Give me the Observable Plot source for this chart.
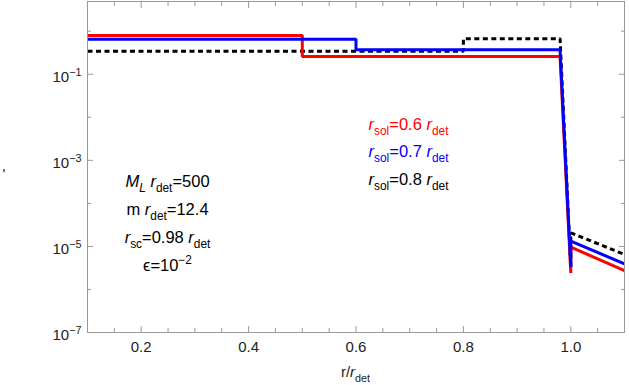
<!DOCTYPE html>
<html><head><meta charset="utf-8">
<script src="https://cdn.jsdelivr.net/npm/d3@7"></script>
<script src="https://cdn.jsdelivr.net/npm/@observablehq/plot@0.6"></script>
<style>body{margin:0;background:#fff}#chart svg{display:block}</style>
</head><body><div id="chart"></div>
<script>
// ---- data ----
const rRed   = [0.1, 0.5, 0.5, 0.98, 1.0, 1.0, 1.1];
const vRed   = [0.79, 0.79, 0.26, 0.26, 2.4e-6, 9.6e-6, 2.75e-6];
const rBlue  = [0.1, 0.6, 0.6, 0.98, 1.0, 1.0, 1.1];
const vBlue  = [0.65, 0.65, 0.37, 0.37, 3.3e-6, 1.32e-5, 3.95e-6];
const rBlack = [0.1, 0.8, 0.8, 0.98, 1.0, 1.0, 1.1];
const vBlack = [0.34, 0.34, 0.67, 0.67, 3.3e-6, 2.07e-5, 6.5e-6];

const xMajor = [0.2, 0.4, 0.6, 0.8, 1.0];
const xMinor = [0.15, 0.25, 0.3, 0.35, 0.45, 0.5, 0.55, 0.65, 0.7, 0.75, 0.85, 0.9, 0.95, 1.05];
const yLabeled = [1e-1, 1e-3, 1e-5, 1e-7];
const yUnlabeled = [1, 1e-2, 1e-4, 1e-6];

const legendLabels = ["*r*_{sol}=0.6 *r*_{det}", "*r*_{sol}=0.7 *r*_{det}", "*r*_{sol}=0.8 *r*_{det}"];
const legendColors = ["#ff0000", "#0000ff", "#000000"];
const paramLabels = ["*M*_{*L*} *r*_{det}=500", "m *r*_{det}=12.4", "*r*_{sc}=0.98 *r*_{det}", "ϵ=10^{−2}"];
const xLabel = "r/*r*_{det}";
const yLabel = "'";

// ---- layout ----
const W = 629, H = 385, mL = 87, mR = 5, mT = 1, mB = 53;
const yTop = 4.9;
const FONT = "'Liberation Sans', Arial, sans-serif";
const AX = "#999";

const series = [
  {r: rBlack, v: vBlack, color: "#000000", dash: "5,3.5"},
  {r: rRed, v: vRed, color: "#ff0000"},
  {r: rBlue, v: vBlue, color: "#0000ff"}
];

const marks = [];
for (const s of series) {
  marks.push(Plot.line(s.r.map((x, i) => ({x, y: s.v[i]})), {
    x: "x", y: "y", stroke: s.color, strokeWidth: 3,
    strokeDasharray: s.dash, strokeLinecap: "butt", strokeLinejoin: "miter"
  }));
}
marks.push(Plot.frame({stroke: AX}));
// ticks (inward)
for (const anchor of ["bottom", "top"]) {
  marks.push(Plot.axisX({anchor, ticks: xMinor, tickSize: -4, tickFormat: () => "", stroke: AX, label: null}));
  marks.push(Plot.axisX({anchor, ticks: xMajor, tickSize: -6, tickFormat: () => "", stroke: AX, label: null}));
}
for (const anchor of ["left", "right"]) {
  marks.push(Plot.axisY({anchor, ticks: yUnlabeled, tickSize: -4, tickFormat: () => "", stroke: AX, label: null}));
  marks.push(Plot.axisY({anchor, ticks: yLabeled, tickSize: -6, tickFormat: () => "", stroke: AX, label: null}));
}
// tick labels
marks.push(Plot.axisX({anchor: "bottom", ticks: xMajor, tickSize: 0, tickPadding: 9, tickFormat: d3.format(".1f"), fill: "#222", fontSize: 15, label: null}));
marks.push(Plot.axisY({anchor: "left", ticks: yLabeled, tickSize: 0, tickPadding: 6, dy: 3,
  tickFormat: d => "10^{" + String(Math.round(Math.log10(d))).replace("-", "−") + "}", fill: "#222", fontSize: 15, label: null}));

// annotation texts
const txt = (t, cx, cy, fill, fontSize) => Plot.text([t], {
  frameAnchor: "top-left", dx: cx - mL, dy: cy - mT, fill, fontSize,
  textAnchor: "middle", lineAnchor: "middle"
});
const legendY = [124, 151.5, 179];
legendLabels.forEach((t, i) => marks.push(txt(t, 408, legendY[i], legendColors[i], 16.5)));
const paramY = [181, 209, 237.5, 265.5];
paramLabels.forEach((t, i) => marks.push(txt(t, 167, paramY[i], "#000", 16.5)));
marks.push(txt(xLabel, 355, 372, "#222", 15));
marks.push(txt(yLabel, 3.5, 174, "#222", 15));

const chart = Plot.plot({
  width: W, height: H, marginLeft: mL, marginRight: mR, marginTop: mT, marginBottom: mB,
  style: {fontFamily: FONT, background: "#fff"},
  x: {domain: [0.1, 1.1]},
  y: {type: "log", domain: [1e-7, yTop]},
  marks
});
document.getElementById("chart").appendChild(chart);

// rich-text post-processing: *italic*, _{sub}, ^{sup}
const NS = "http://www.w3.org/2000/svg";
function rich(el) {
  const s = el.textContent;
  if (!/[*_^]/.test(s)) return;
  const fs = parseFloat(getComputedStyle(el).fontSize) || 15;
  const re = /\*([^*]+)\*|_\{([^}]*)\}|\^\{([^}]*)\}|([^*_^]+)/g;
  el.textContent = "";
  let off = 0, m;
  while ((m = re.exec(s))) {
    const t = document.createElementNS(NS, "tspan");
    let txt, target = 0, size = null, italic = false;
    if (m[1] !== undefined) { txt = m[1]; italic = true; }
    else if (m[2] !== undefined) { txt = m[2]; target = 0.3 * fs; size = 0.72 * fs; }
    else if (m[3] !== undefined) { txt = m[3]; target = -0.42 * fs; size = 0.72 * fs; }
    else { txt = m[4]; }
    if (/^\*.*\*$/.test(txt)) { txt = txt.slice(1, -1); italic = true; }
    if (italic) t.setAttribute("font-style", "italic");
    if (size) t.setAttribute("font-size", size);
    if (target !== off) { t.setAttribute("dy", target - off); off = target; }
    t.textContent = txt;
    el.appendChild(t);
  }
}
chart.querySelectorAll("text").forEach(rich);
</script>
</body></html>
